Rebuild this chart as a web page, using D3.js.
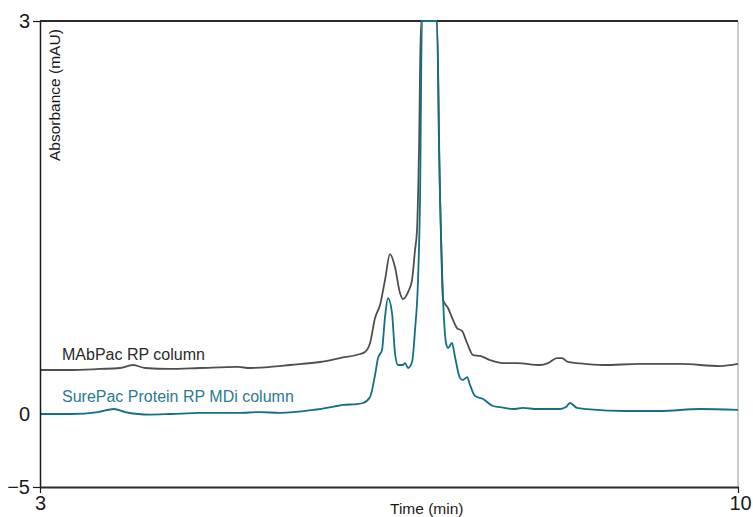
<!DOCTYPE html>
<html>
<head>
<meta charset="utf-8">
<script src="https://cdn.jsdelivr.net/npm/d3@7"></script>
<style>
  html, body { margin: 0; padding: 0; background: #fff; }
  svg { display: block; font-family: "Liberation Sans", Arial, Helvetica, sans-serif; }
</style>
</head>
<body>
<svg id="chart" width="753" height="517"></svg>
<script>
// Retention time (min) and absorbance (mAU) for each column
const mabpacTime = [3.000, 3.301, 3.602, 3.802, 3.933, 4.053, 4.304, 4.605, 4.986, 5.106, 5.307, 5.507,
  5.808, 6.009, 6.209, 6.259, 6.310, 6.360, 6.410, 6.460, 6.510, 6.560, 6.610, 6.640, 6.691, 6.731,
  6.761, 6.781, 6.801, 6.821, 6.981, 7.002, 7.022, 7.042, 7.092, 7.142, 7.182, 7.232, 7.283, 7.343,
  7.413, 7.513, 7.643, 7.784, 8.015, 8.095, 8.185, 8.235, 8.295, 8.386, 8.646, 9.017, 9.419, 9.820, 10.000];
const mabpacAbs = [0.336, 0.336, 0.344, 0.351, 0.374, 0.351, 0.344, 0.351, 0.359, 0.351, 0.359, 0.374,
  0.397, 0.427, 0.458, 0.473, 0.542, 0.733, 0.832, 1.023, 1.221, 1.122, 0.924, 0.878, 0.931, 1.023,
  1.252, 1.405, 2.015, 3.000, 3.000, 2.015, 1.328, 0.870, 0.809, 0.718, 0.656, 0.634, 0.542, 0.450,
  0.443, 0.412, 0.389, 0.389, 0.374, 0.389, 0.427, 0.427, 0.397, 0.389, 0.374, 0.382, 0.382, 0.366, 0.382];

const surepacTime = [3.000, 3.311, 3.582, 3.742, 3.852, 3.983, 4.103, 4.314, 4.605, 4.986, 5.206, 5.407,
  5.738, 5.979, 6.039, 6.179, 6.239, 6.310, 6.360, 6.390, 6.430, 6.460, 6.490, 6.530, 6.560, 6.590,
  6.640, 6.661, 6.691, 6.731, 6.761, 6.791, 6.811, 6.831, 6.981, 7.012, 7.032, 7.052, 7.072, 7.092,
  7.132, 7.162, 7.212, 7.242, 7.283, 7.313, 7.363, 7.443, 7.543, 7.613, 7.744, 7.844, 7.984, 8.215,
  8.275, 8.315, 8.386, 8.486, 8.887, 9.218, 9.619, 10.000];
const surepacAbs = [0.000, 0.000, 0.015, 0.038, 0.015, 0.000, -0.040, 0.000, 0.008, 0.008, 0.015, 0.008,
  0.031, 0.061, 0.069, 0.076, 0.084, 0.130, 0.298, 0.427, 0.489, 0.740, 0.885, 0.771, 0.466, 0.374,
  0.374, 0.389, 0.351, 0.397, 0.641, 1.023, 1.634, 3.000, 3.000, 1.634, 1.099, 0.718, 0.542, 0.504,
  0.542, 0.435, 0.275, 0.260, 0.282, 0.221, 0.137, 0.115, 0.061, 0.053, 0.038, 0.046, 0.038, 0.038,
  0.053, 0.084, 0.046, 0.038, 0.023, 0.023, 0.038, 0.031];

const xTicks = [3, 10];
const yTicks = [-5, 0, 3];
const seriesNames = ["MAbPac RP column", "SurePac Protein RP MDi column"];

const svg = d3.select("#chart");

// Piecewise vertical scale: the range below zero is compressed
const x = d3.scaleLinear().domain([3, 10]).range([40, 738]);
const y = d3.scaleLinear().domain([-5, 0, 3]).range([487, 414, 21]);

// Plot frame
svg.append("line").attr("x1", x(10)).attr("x2", x(10)).attr("y1", y(3)).attr("y2", y(-5))
  .attr("stroke", "#9a9a9a").attr("stroke-width", 1);
svg.append("line").attr("x1", x(3)).attr("x2", x(10)).attr("y1", y(3)).attr("y2", y(3))
  .attr("stroke", "#2b2b2b").attr("stroke-width", 2);

const line = d3.line()
  .x(d => x(d[0]))
  .y(d => y(d[1]))
  .curve(d3.curveMonotoneX);

const mabpac = mabpacTime.map((t, i) => [t, mabpacAbs[i]]);
const surepac = surepacTime.map((t, i) => [t, surepacAbs[i]]);

svg.append("path").datum(mabpac).attr("d", line)
  .attr("fill", "none").attr("stroke", "#4f4f4f").attr("stroke-width", 1.8)
  .attr("stroke-linejoin", "round");
svg.append("path").datum(surepac).attr("d", line)
  .attr("fill", "none").attr("stroke", "#136f86").attr("stroke-width", 1.8)
  .attr("stroke-linejoin", "round");

// Axes
const yAxis = svg.append("g").attr("transform", `translate(${x(3)},0)`)
  .call(d3.axisLeft(y).tickValues(yTicks).tickSize(7).tickSizeOuter(0).tickFormat(d3.format("")));
yAxis.select(".domain").attr("stroke", "#1a1a1a").attr("stroke-width", 1.5);
yAxis.selectAll(".tick line").attr("stroke", "#1a1a1a").attr("stroke-width", 1.2)
  .filter(d => d === 0).remove();
yAxis.selectAll(".tick text").attr("font-size", 20).attr("fill", "#1a1a1a")
  .attr("font-family", "Liberation Sans, Arial, sans-serif").attr("x", -10);

const xAxis = svg.append("g").attr("transform", `translate(0,${y(-5)})`)
  .call(d3.axisBottom(x).tickValues(xTicks).tickSize(6).tickSizeOuter(0).tickFormat(d3.format("")));
xAxis.select(".domain").attr("stroke", "#2b2b2b").attr("stroke-width", 2);
xAxis.selectAll(".tick line").attr("stroke", "#1a1a1a").attr("stroke-width", 1.2);
xAxis.selectAll(".tick text").attr("font-size", 20).attr("fill", "#1a1a1a")
  .attr("font-family", "Liberation Sans, Arial, sans-serif").attr("y", 9);
xAxis.selectAll(".tick text").filter(d => d === 10).attr("dx", 2);

// Axis titles
svg.append("text").attr("x", 390).attr("y", 514)
  .attr("font-size", 15.5).attr("fill", "#1a1a1a").text("Time (min)");
svg.append("text").attr("transform", "translate(60,161) rotate(-90)")
  .attr("font-size", 15.5).attr("fill", "#1a1a1a").text("Absorbance (mAU)");

// Series labels
svg.append("text").attr("x", 62).attr("y", 360)
  .attr("font-size", 16).attr("fill", "#2a2a2a").text(seriesNames[0]);
svg.append("text").attr("x", 62).attr("y", 402)
  .attr("font-size", 16).attr("fill", "#2b7a90").text(seriesNames[1]);
</script>
</body>
</html>
